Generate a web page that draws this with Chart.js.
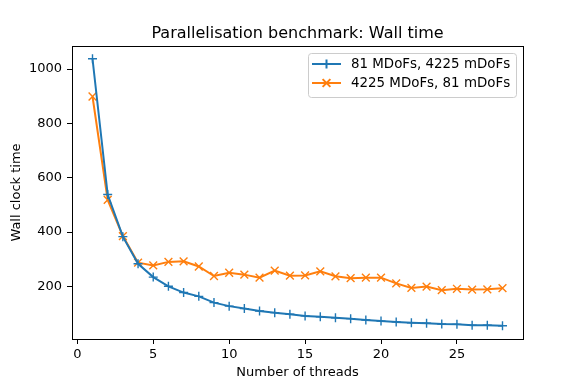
<!DOCTYPE html>
<html>
<head>
<meta charset="utf-8">
<script src="https://cdn.jsdelivr.net/npm/chart.js@4.4.1/dist/chart.umd.min.js"></script>
<style>
  html, body { margin: 0; padding: 0; background: #fff; }
  #wrap { width: 581px; height: 388px; }
</style>
</head>
<body>
<div id="wrap"><canvas id="chart" width="581" height="388"></canvas></div>
<script>
// Datos
const threads = [1, 2, 3, 4, 5, 6, 7, 8, 9, 10, 11, 12, 13, 14, 15, 16, 17, 18, 19, 20, 21, 22, 23, 24, 25, 26, 27, 28];
const wallTimeA = [1038, 538, 383, 283, 234, 200, 177, 163, 140, 127, 118, 109, 103, 97, 91, 88, 84, 81, 76, 72, 69, 66, 64, 61, 60, 57, 57, 55];
const wallTimeB = [899, 518, 385, 287, 277, 290, 292, 273, 238, 250, 243, 232, 258, 239, 240, 255, 237, 230, 232, 232, 211, 194, 199, 186, 191, 188, 189, 193];
const labelA = '81 MDoFs, 4225 mDoFs';
const labelB = '4225 MDoFs, 81 mDoFs';
const xTicks = [0, 5, 10, 15, 20, 25];
const yTicks = [200, 400, 600, 800, 1000];
const chartTitle = 'Parallelisation benchmark: Wall time';

const FONT = 'DejaVu Sans';
const BLUE = '#1f77b4';
const ORANGE = '#ff7f0e';

function toXY(xs, ys) {
    return xs.map((x, i) => ({ x: x, y: ys[i] }));
}

// Marco completo (spines de arriba y derecha) + titulo centrado sobre los ejes
const framePlugin = {
    id: 'frame',
    afterDatasetsDraw(chart) {
        const { ctx, chartArea: a } = chart;
        ctx.save();
        ctx.strokeStyle = '#000';
        ctx.lineWidth = 1;
        ctx.strokeRect(Math.round(a.left) + 0.5, Math.round(a.top) + 0.5,
            Math.round(a.right - a.left), Math.round(a.bottom - a.top));
        ctx.fillStyle = '#000';
        ctx.font = '16px "' + FONT + '"';
        ctx.textAlign = 'center';
        ctx.textBaseline = 'alphabetic';
        ctx.fillText(chartTitle, (a.left + a.right) / 2, a.top - 8);
        ctx.restore();
    }
};

// Leyenda estilo matplotlib dentro del area
const legendPlugin = {
    id: 'mplLegend',
    afterDraw(chart) {
        const { ctx, chartArea: a } = chart;
        const boxRight = a.right - 7;
        const boxW = 208, boxH = 44;
        const boxLeft = boxRight - boxW;
        const boxTop = a.top + 7;
        ctx.save();
        ctx.fillStyle = 'rgba(255,255,255,0.8)';
        ctx.strokeStyle = '#cccccc';
        ctx.lineWidth = 1;
        ctx.beginPath();
        ctx.roundRect(boxLeft + 0.5, boxTop + 0.5, boxW, boxH, 3);
        ctx.fill();
        ctx.stroke();
        chart.data.datasets.forEach((ds, i) => {
            const y = boxTop + 11 + i * 19;
            const x0 = boxLeft + 4, x1 = boxLeft + 33;
            ctx.strokeStyle = ds.borderColor;
            ctx.lineWidth = ds.borderWidth;
            ctx.beginPath();
            ctx.moveTo(x0, y);
            ctx.lineTo(x1, y);
            ctx.stroke();
            Chart.helpers.drawPoint(ctx, {
                pointStyle: ds.pointStyle,
                radius: ds.pointRadius,
                borderWidth: ds.pointBorderWidth,
                rotation: 0
            }, (x0 + x1) / 2, y);
            ctx.fillStyle = '#000';
            ctx.font = '13.4px "' + FONT + '"';
            ctx.textAlign = 'left';
            ctx.textBaseline = 'middle';
            ctx.fillText(ds.label, boxLeft + 43, y + 1);
        });
        ctx.restore();
    }
};

new Chart(document.getElementById('chart'), {
    type: 'line',
    data: {
        datasets: [{
            label: labelA,
            data: toXY(threads, wallTimeA),
            borderColor: BLUE,
            backgroundColor: BLUE,
            borderWidth: 2,
            pointStyle: 'cross',
            pointRadius: 4.5,
            pointBorderWidth: 1.4,
            pointBorderColor: BLUE,
            tension: 0
        }, {
            label: labelB,
            data: toXY(threads, wallTimeB),
            borderColor: ORANGE,
            backgroundColor: ORANGE,
            borderWidth: 2,
            pointStyle: 'crossRot',
            pointRadius: 5.5,
            pointBorderWidth: 1.4,
            pointBorderColor: ORANGE,
            tension: 0
        }]
    },
    options: {
        responsive: false,
        animation: false,
        events: [],
        layout: { padding: { left: 0, right: 58, top: 46, bottom: 0 } },
        plugins: {
            legend: { display: false },
            tooltip: { enabled: false },
            title: { display: false }
        },
        scales: {
            x: {
                type: 'linear',
                min: -0.35,
                max: 29.35,
                afterBuildTicks: (scale) => { scale.ticks = xTicks.map(v => ({ value: v })); },
                afterFit: (scale) => { scale.height = 49; },
                grid: { drawOnChartArea: false, drawTicks: true, tickLength: 5, tickColor: '#000', tickWidth: 1 },
                border: { display: true, color: '#000', width: 1 },
                ticks: { color: '#000', font: { family: FONT, size: 13 }, padding: 3, maxRotation: 0,
                    callback: (v) => String(v) },
                title: {
                    display: true,
                    text: 'Number of threads',
                    color: '#000',
                    font: { family: FONT, size: 13 },
                    padding: { top: 0, bottom: 8 }
                }
            },
            y: {
                type: 'linear',
                min: 6,
                max: 1085,
                afterBuildTicks: (scale) => { scale.ticks = yTicks.map(v => ({ value: v })); },
                afterFit: (scale) => { scale.width = 72; },
                grid: { drawOnChartArea: false, drawTicks: true, tickLength: 5, tickColor: '#000', tickWidth: 1 },
                border: { display: true, color: '#000', width: 1 },
                ticks: { color: '#000', font: { family: FONT, size: 13 }, padding: 5,
                    callback: (v) => String(v) },
                title: {
                    display: true,
                    text: 'Wall clock time',
                    color: '#000',
                    font: { family: FONT, size: 13 },
                    padding: { top: 9, bottom: 0 }
                }
            }
        }
    },
    plugins: [framePlugin, legendPlugin]
});
</script>
</body>
</html>
